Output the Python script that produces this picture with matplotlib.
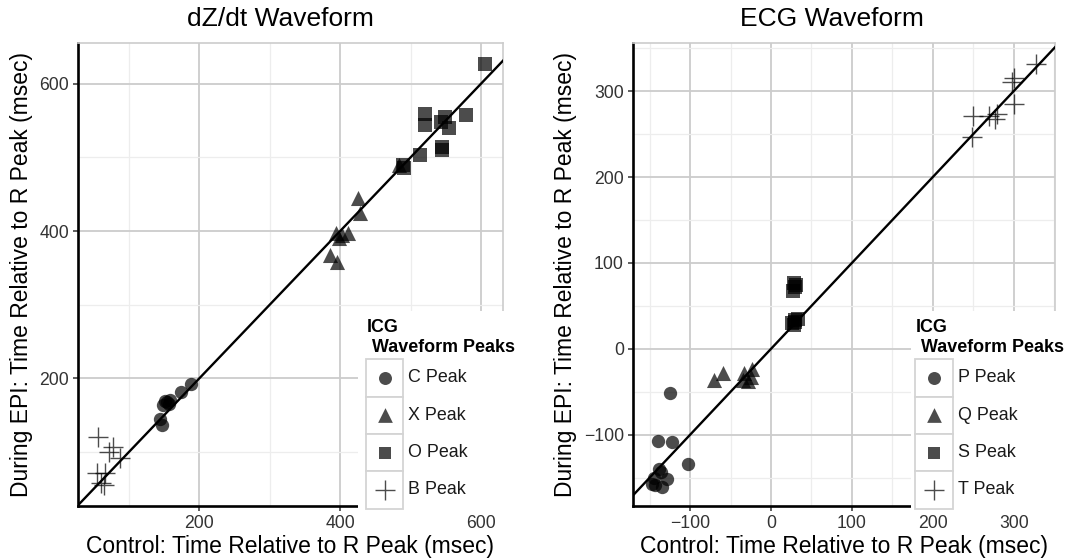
import matplotlib
matplotlib.use('Agg')
import matplotlib.pyplot as plt
from matplotlib.patches import Rectangle
from matplotlib.ticker import MultipleLocator

plt.rcParams['font.family'] = ['Liberation Sans', 'DejaVu Sans']

# ---------------- data ----------------
# dZ/dt waveform (Control x, During EPI y), msec
dz_labels = ['C Peak', 'X Peak', 'O Peak', 'B Peak']
dz_c_x = [188, 174, 159, 152, 148, 157, 154, 145, 147]
dz_c_y = [193, 181, 171, 170, 164, 166, 168, 145, 137]
dz_x_x = [425, 428, 394, 411, 403, 386, 396, 484, 398]
dz_x_y = [445, 425, 397, 397, 395, 367, 358, 489, 390]
dz_o_x = [605, 521, 520, 548, 555, 579, 543, 545, 544, 513, 491, 489]
dz_o_y = [627, 559, 544, 555, 540, 557, 548, 514, 510, 503, 485, 489]
dz_b_x = [56, 72, 77, 88, 55, 67, 60, 65]
dz_b_y = [121, 100, 107, 92, 72, 72, 58, 56]

# ECG waveform
ecg_labels = ['P Peak', 'Q Peak', 'S Peak', 'T Peak']
ecg_p_x = [-125, -140, -123, -103, -138, -136, -145, -129, -143, -135, -147]
ecg_p_y = [-52, -107, -109, -134, -140, -143, -150, -151, -159, -161, -157]
ecg_q_x = [-71, -59, -33, -23, -35, -28, -25]
ecg_q_y = [-36, -28, -28, -23, -36, -38, -33]
ecg_s_x = [28, 30, 27, 31, 26, 30, 33, 28, 29]
ecg_s_y = [77, 72, 67, 74, 30, 34, 35, 28, 31]
ecg_t_x = [327, 300, 298, 300, 250, 270, 279, 277, 249]
ecg_t_y = [332, 315, 311, 285, 271, 271, 273, 267, 246]

W, H = 1068, 560
fig = plt.figure(figsize=(W / 100, H / 100), dpi=100)

MARKERS = ['o', '^', 's', '+']
SIZES = [92, 118, 90, 210]
PT_COLOR = 'black'
ALPHA = 0.7


def px_axes(x0, x1, ytop, ybot):
    return [x0 / W, (H - ybot) / H, (x1 - x0) / W, (ybot - ytop) / H]


def style_axes(ax, major, minor, xlim, ylim):
    ax.set_xlim(*xlim)
    ax.set_ylim(*ylim)
    for a in (ax.xaxis, ax.yaxis):
        a.set_major_locator(MultipleLocator(major))
        a.set_minor_locator(MultipleLocator(minor))
    ax.grid(which='major', color='#cccccc', lw=1.3)
    ax.grid(which='minor', color='#ededed', lw=0.9)
    ax.set_axisbelow(True)
    ax.tick_params(which='major', direction='out', length=3.8, width=1.1,
                   color='#333333', labelsize=12.7, labelcolor='#333333', pad=2.5)
    ax.tick_params(which='minor', length=0)
    for s in ('left', 'bottom'):
        ax.spines[s].set_color('black')
        ax.spines[s].set_linewidth(1.9)
    for s in ('top', 'right'):
        ax.spines[s].set_color('#cccccc')
        ax.spines[s].set_linewidth(1.2)
    ax.set_xlabel('Control: Time Relative to R Peak (msec)', fontsize=16.5, labelpad=2)
    ax.set_ylabel('During EPI: Time Relative to R Peak (msec)', fontsize=16.5, labelpad=5)
    ax.axline((0, 0), slope=1, color='black', lw=1.7, zorder=5)


def plot_series(ax, xs, ys):
    for (x, y), m, s in zip(zip(xs, ys), MARKERS, SIZES):
        if m == '+':
            ax.scatter(x, y, marker=m, s=s, color=PT_COLOR, alpha=ALPHA,
                       linewidths=1.0, zorder=3)
        else:
            ax.scatter(x, y, marker=m, s=s, color=PT_COLOR, alpha=ALPHA,
                       linewidths=0, zorder=3)


def draw_legend(x0, x1, keyx, labels):
    ytop, ybot = 311, 512
    lax = fig.add_axes(px_axes(x0, x1, ytop, ybot), zorder=10)
    lax.set_xlim(x0, x1)
    lax.set_ylim(ybot, ytop)
    lax.set_facecolor('white')
    for s in lax.spines.values():
        s.set_visible(False)
    lax.set_xticks([])
    lax.set_yticks([])
    lax.text(keyx + 1, 331.5, 'ICG', fontsize=12.9, fontweight='bold',
             ha='left', va='baseline')
    lax.text(keyx + 1, 351.5, ' Waveform Peaks', fontsize=12.9, fontweight='bold',
             ha='left', va='baseline')
    kw, kh, k0 = 37.6, 37.3, 359.3
    for i, (lab, m, s) in enumerate(zip(labels, MARKERS, SIZES)):
        top = k0 + i * kh
        lax.add_patch(Rectangle((keyx, top), kw, kh, facecolor='white',
                                edgecolor='#d4d4d4', lw=1.3))
        cy = top + kh / 2
        if m == '+':
            lax.scatter([keyx + kw / 2], [cy], marker=m, s=s, color=PT_COLOR,
                        alpha=ALPHA, linewidths=1.0, zorder=3)
        else:
            lax.scatter([keyx + kw / 2], [cy], marker=m, s=s * 0.95, color=PT_COLOR,
                        alpha=ALPHA, linewidths=0, zorder=3)
        lax.text(keyx + kw + 5, cy, lab, fontsize=12.9, ha='left', va='center',
                 color='#1a1a1a')


# ---------------- left panel ----------------
ax1 = fig.add_axes(px_axes(78, 503, 43, 506))
style_axes(ax1, 200, 100, (28, 631), (27, 655))
plot_series(ax1, [dz_c_x, dz_x_x, dz_o_x, dz_b_x], [dz_c_y, dz_x_y, dz_o_y, dz_b_y])
fig.text(280 / W, 1 - 19 / H, 'dZ/dt Waveform', ha='center', va='center', fontsize=19)
draw_legend(358, 530, 365.7, dz_labels)

# ---------------- right panel ----------------
ax2 = fig.add_axes(px_axes(632.7, 1055, 43, 506))
style_axes(ax2, 100, 50, (-171, 351), (-183, 356))
plot_series(ax2, [ecg_p_x, ecg_q_x, ecg_s_x, ecg_t_x], [ecg_p_y, ecg_q_y, ecg_s_y, ecg_t_y])
fig.text(832 / W, 1 - 19 / H, 'ECG Waveform', ha='center', va='center', fontsize=19)
draw_legend(911, 1068, 915, ecg_labels)

fig.savefig('out.png', dpi=100)
